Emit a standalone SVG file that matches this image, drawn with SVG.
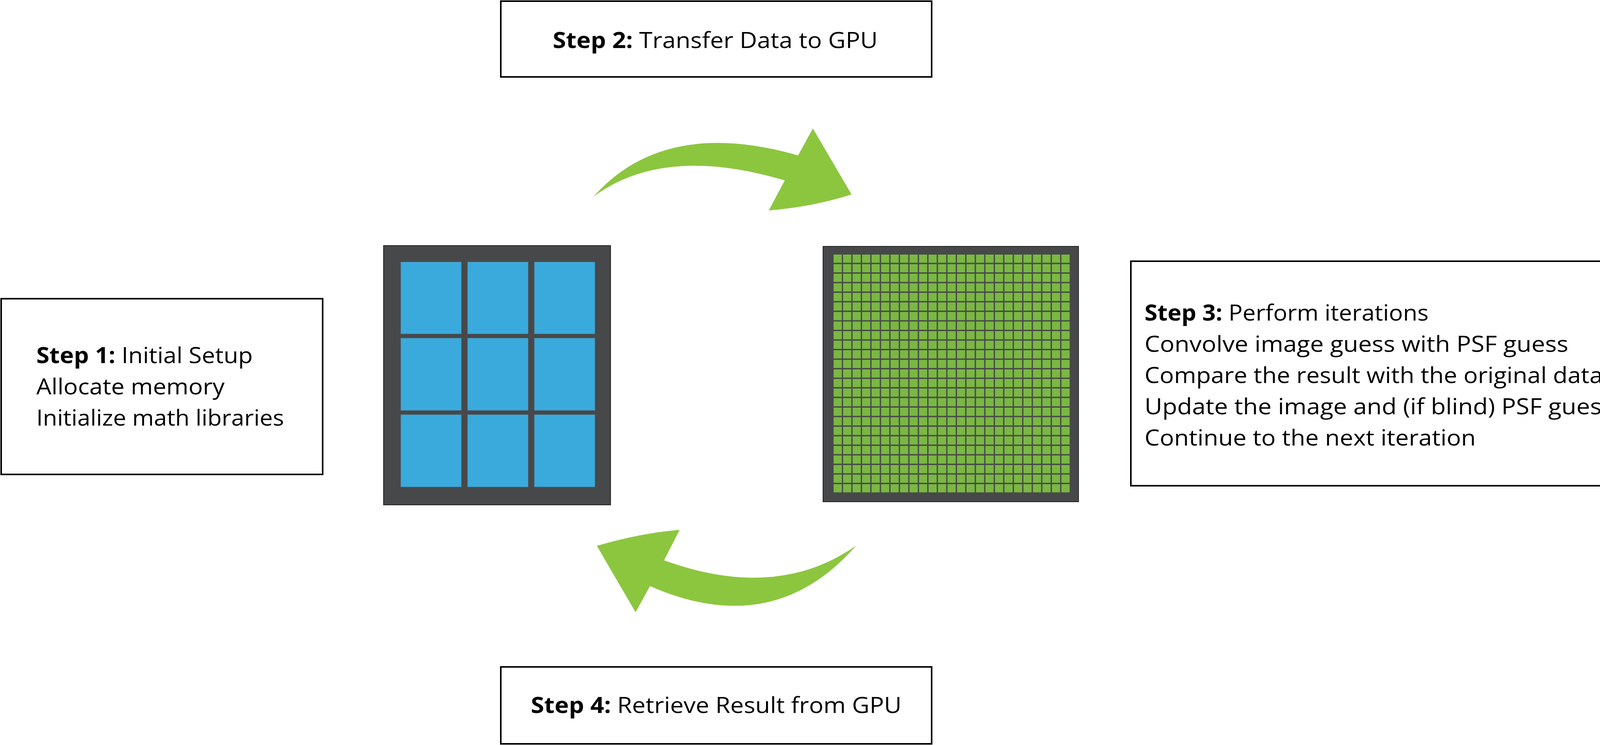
<svg xmlns="http://www.w3.org/2000/svg" width="4179" height="1908" viewBox="0 0 4179 1908">
<style>
.box{fill:#fff;stroke:#000;stroke-width:4}
.t{font-family:"Open Sans","Noto Sans",sans-serif;font-size:57px;fill:#000}
.b{font-weight:bold}
.arrow{fill:#8cc63f}
.cell{fill:#3aaadd;stroke:#4a7f9e;stroke-width:1}
.chip{fill:#474849;stroke:#222;stroke-width:2}
</style>
<defs>
<pattern id="gp" x="2134" y="652" width="24.3" height="24.5" patternUnits="userSpaceOnUse">
<rect width="21" height="21" fill="#7ab843"/>
</pattern>
</defs>
<rect width="4179" height="1908" fill="#fff"/>
<g id="step1">
<rect class="box" x="3" y="765" width="823" height="450"/>
<text class="t" x="93" y="930" textLength="554" lengthAdjust="spacingAndGlyphs"><tspan class="b">Step 1:</tspan> Initial Setup</text>
<text class="t" x="93" y="1010" textLength="482" lengthAdjust="spacingAndGlyphs">Allocate memory</text>
<text class="t" x="93" y="1090" textLength="634" lengthAdjust="spacingAndGlyphs">Initialize math libraries</text>
</g>
<g id="step2">
<rect class="box" x="1282" y="3" width="1103" height="194"/>
<text class="t" x="1415" y="123" textLength="832" lengthAdjust="spacingAndGlyphs"><tspan class="b">Step 2:</tspan> Transfer Data to GPU</text>
</g>
<g id="step3">
<rect class="box" x="2895" y="669" width="1277" height="575"/>
<text class="t" x="2930" y="821" textLength="727" lengthAdjust="spacingAndGlyphs"><tspan class="b">Step 3:</tspan> Perform iterations</text>
<text class="t" x="2930" y="901" textLength="1085" lengthAdjust="spacingAndGlyphs">Convolve image guess with PSF guess</text>
<text class="t" x="2930" y="981" textLength="1173" lengthAdjust="spacingAndGlyphs">Compare the result with the original data</text>
<text class="t" x="2930" y="1061" textLength="1200" lengthAdjust="spacingAndGlyphs">Update the image and (if blind) PSF guess</text>
<text class="t" x="2930" y="1141" textLength="848" lengthAdjust="spacingAndGlyphs">Continue to the next iteration</text>
</g>
<g id="step4">
<rect class="box" x="1282" y="1708" width="1103" height="197"/>
<text class="t" x="1359" y="1826" textLength="949" lengthAdjust="spacingAndGlyphs"><tspan class="b">Step 4:</tspan> Retrieve Result from GPU</text>
</g>
<g id="cpu">
<rect class="chip" x="982" y="629" width="581" height="664"/>
<rect class="cell" x="1026" y="671" width="155" height="184"/>
<rect class="cell" x="1197" y="671" width="155" height="184"/>
<rect class="cell" x="1368" y="671" width="155" height="184"/>
<rect class="cell" x="1026" y="866" width="155" height="185"/>
<rect class="cell" x="1197" y="866" width="155" height="185"/>
<rect class="cell" x="1368" y="866" width="155" height="185"/>
<rect class="cell" x="1026" y="1062" width="155" height="185"/>
<rect class="cell" x="1197" y="1062" width="155" height="185"/>
<rect class="cell" x="1368" y="1062" width="155" height="185"/>
</g>
<g id="gpu">
<rect class="chip" x="2107" y="631" width="654" height="654"/>
<rect x="2134" y="652" width="605" height="610" fill="url(#gp)"/>
</g>
<g id="connectors">
<path class="arrow" d="M1520,503 Q1700,300 2043,398 L2081,329 L2180,498 Q2080,530 1968,539 L2009,462 Q1700,370 1520,503 Z"/>
<path class="arrow" d="M2192,1397 Q1980,1640 1664,1501 L1627,1568 L1528,1398 Q1640,1365 1740,1357 L1700,1435 Q1990,1540 2192,1397 Z"/>
</g>
</svg>
